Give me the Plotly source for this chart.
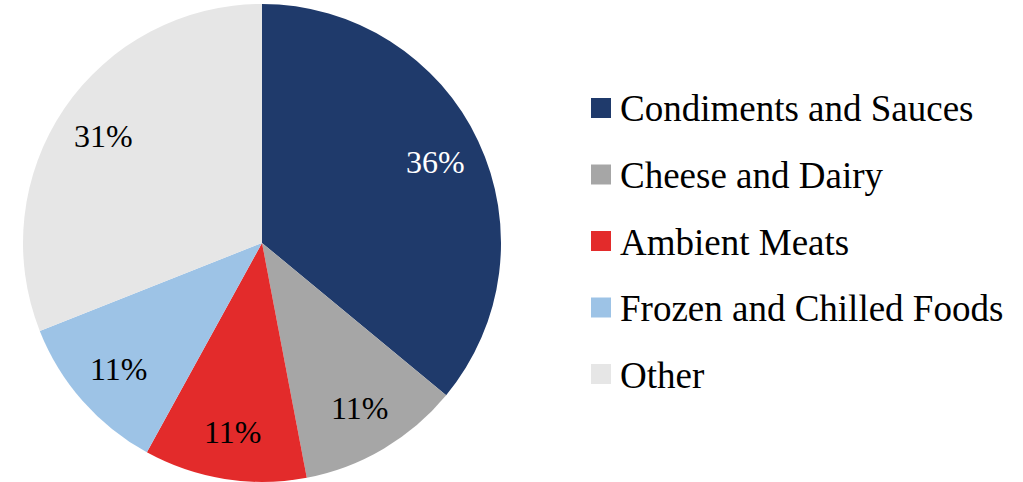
import math
import plotly.graph_objects as go

# Share of products by category (percent)
categories = ["Condiments and Sauces", "Cheese and Dairy", "Ambient Meats",
              "Frozen and Chilled Foods", "Other"]
shares = [36, 11, 11, 11, 31]
colors = ["#1F3A6B", "#A6A6A6", "#E32B2B", "#9DC3E6", "#E6E6E6"]
label_colors = ["#FFFFFF", "#000000", "#000000", "#000000", "#000000"]

W, H = 1023, 482
FONT = "Liberation Serif"

# Pie placement (pixels)
cx, cy, R = 262, 243, 239

fig = go.Figure(go.Pie(
    labels=categories,
    values=shares,
    marker=dict(colors=colors),
    sort=False,
    direction="clockwise",
    textinfo="none",
    domain=dict(x=[(cx - R) / W, (cx + R) / W], y=[0, 0.992]),
    showlegend=False,
))

# Percent labels on the slice bisectors
total = sum(shares)
cum = 0
for v, tc in zip(shares, label_colors):
    mid = (cum + v / 2) / total * 2 * math.pi
    cum += v
    r = 0.8 * R
    px = cx + r * math.sin(mid)
    py = cy - r * math.cos(mid)
    fig.add_annotation(x=px / W, y=1 - py / H, xref="paper", yref="paper",
                       text=f"{v / total * 100:.0f}%", showarrow=False,
                       xanchor="center", yanchor="middle",
                       font=dict(family=FONT, size=32, color=tc))

# Legend: colored square markers on a pixel-scaled overlay axis, plus names
leg_x, leg_y0, leg_dy, sq = 601, 108, 66.5, 20
leg_y = [leg_y0 + i * leg_dy for i in range(len(categories))]
fig.add_trace(go.Scatter(
    x=[leg_x] * len(categories), y=leg_y, mode="markers",
    marker=dict(symbol="square", size=sq, color=colors, line=dict(width=0)),
    hoverinfo="skip", showlegend=False,
))
for name, yc in zip(categories, leg_y):
    fig.add_annotation(x=(leg_x + sq / 2 + 7) / W, y=1 - (yc + 1) / H, xref="paper", yref="paper",
                       text=name, showarrow=False, xanchor="left", yanchor="middle",
                       font=dict(family=FONT, size=37, color="#000"))

fig.update_layout(
    width=W, height=H, margin=dict(l=0, r=0, t=0, b=0),
    paper_bgcolor="white", plot_bgcolor="rgba(0,0,0,0)",
    xaxis=dict(range=[0, W], visible=False, fixedrange=True),
    yaxis=dict(range=[H, 0], visible=False, fixedrange=True),
)
fig.write_html("out.html")
